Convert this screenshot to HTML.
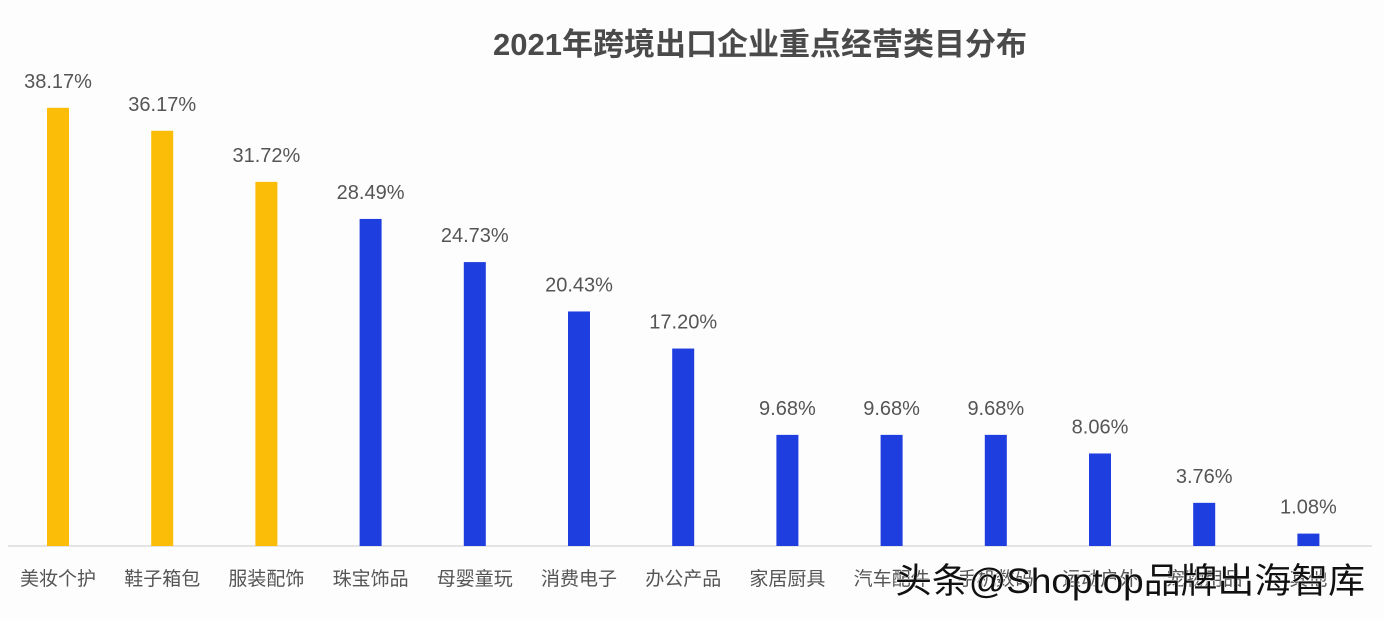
<!DOCTYPE html>
<html><head><meta charset="utf-8"><style>
body{margin:0;background:#fff;width:1384px;height:620px;overflow:hidden;font-family:"Liberation Sans","Noto Sans CJK SC",sans-serif}
</style></head><body>
<svg id="c" width="1384" height="620" xmlns="http://www.w3.org/2000/svg">
<rect width="1384" height="620" fill="#fdfdfe"/>
<text x="760" y="55" text-anchor="middle" font-size="31" font-weight="bold" fill="#4a4a4a" font-family="Liberation Sans, Noto Sans CJK SC, sans-serif">2021年跨境出口企业重点经营类目分布</text>
<line x1="8" y1="546" x2="1372" y2="546" stroke="#ccc" stroke-width="1"/>
<g id="bars"></g>
<text x="1130" y="593" text-anchor="middle" font-size="35" textLength="470" lengthAdjust="spacingAndGlyphs" fill="#111" stroke="#fff" stroke-width="1" paint-order="stroke">头条@Shoptop品牌出海智库</text>
</svg>
<script>
const categories=["美妆个护","鞋子箱包","服装配饰","珠宝饰品","母婴童玩","消费电子","办公产品","家居厨具","汽车配件","手机数码","运动户外","宠物用品","其他"];
const values=[38.17,36.17,31.72,28.49,24.73,20.43,17.20,9.68,9.68,9.68,8.06,3.76,1.08];
const labels=["38.17%","36.17%","31.72%","28.49%","24.73%","20.43%","17.20%","9.68%","9.68%","9.68%","8.06%","3.76%","1.08%"];
const highlight=[1,1,1,0,0,0,0,0,0,0,0,0,0];
const base=546, scale=11.48, x0=58, step=104.2, bw=22;
const xPos=i=>x0+i*step;
const yPos=v=>base-v*scale;
const g=document.getElementById('bars');
const NS='http://www.w3.org/2000/svg';
values.forEach((v,i)=>{
  const r=document.createElementNS(NS,'rect');
  r.setAttribute('x',xPos(i)-bw/2);r.setAttribute('y',yPos(v));
  r.setAttribute('width',bw);r.setAttribute('height',base-yPos(v));
  r.setAttribute('fill',highlight[i]?'#fbbd08':'#1f3ee0');
  
  
  g.appendChild(r);
  const t=document.createElementNS(NS,'text');
  t.setAttribute('x',xPos(i));t.setAttribute('y',yPos(v)-20);
  t.setAttribute('text-anchor','middle');t.setAttribute('font-size','20');t.setAttribute('fill','#555');
  t.textContent=labels[i];
  
  
  g.appendChild(t);
  const c=document.createElementNS(NS,'text');
  c.setAttribute('x',xPos(i));c.setAttribute('y',585);
  c.setAttribute('text-anchor','middle');c.setAttribute('font-size','19');c.setAttribute('fill','#555');
  c.textContent=categories[i];
  
  
  g.appendChild(c);
});
</script>
</body></html>
